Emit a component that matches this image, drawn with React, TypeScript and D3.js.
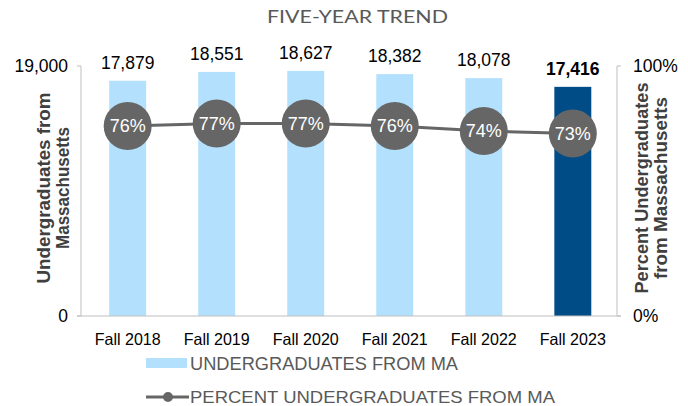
import React from "react";
import * as d3 from "d3";

const categories = ["Fall 2018", "Fall 2019", "Fall 2020", "Fall 2021", "Fall 2022", "Fall 2023"];
const undergrads = [17879, 18551, 18627, 18382, 18078, 17416];
const percents = [76, 77, 77, 76, 74, 73];
const leftTicks = [0, 19000];
const rightTicks = [0, 100];

const W = 688;
const H = 406;
const M = { left: 81, right: 617, top: 66, bottom: 316 };
const FONT = "'Liberation Sans', Arial, sans-serif";

export default function App() {
  const x = d3.scaleBand<string>().domain(categories).range([M.left + 1.5, M.right + 1]).paddingInner(0.585).paddingOuter(0.3);
  const yL = d3.scaleLinear().domain([0, 19000]).range([M.bottom, M.top]);
  const yR = d3.scaleLinear().domain([0, 100]).range([M.bottom, M.top]);
  const fmt = d3.format(",");
  const cx = (c: string) => (x(c) as number) + x.bandwidth() / 2;
  const line = d3
    .line<number>()
    .x((_, i) => cx(categories[i]))
    .y((d) => yR(d));

  return (
    <svg width={W} height={H} style={{ position: "absolute", left: 0, top: 0 }}>
      <rect width={W} height={H} fill="#fff" />
      <text x={267} y={23.3} fontFamily="Lato, sans-serif" fontSize={17.5} fill="#595959" textLength={181} lengthAdjust="spacingAndGlyphs">
        FIVE-YEAR TREND
      </text>

      {categories.map((c, i) => (
        <rect
          key={c}
          x={x(c)}
          y={yL(undergrads[i])}
          width={x.bandwidth()}
          height={yL(0) - yL(undergrads[i])}
          fill={i === categories.length - 1 ? "#004c87" : "#b3e1fd"}
        />
      ))}

      {/* axes */}
      <line x1={M.left} x2={M.left} y1={M.top} y2={M.bottom} stroke="#bfbfbf" strokeWidth={1} />
      <line x1={M.right} x2={M.right} y1={M.top} y2={M.bottom} stroke="#bfbfbf" strokeWidth={1} />
      <line x1={M.left - 4} x2={M.right + 4} y1={M.bottom} y2={M.bottom} stroke="#bfbfbf" strokeWidth={1} />
      {leftTicks.map((t) => (
        <g key={"l" + t}>
          <line x1={M.left - 4} x2={M.left} y1={yL(t)} y2={yL(t)} stroke="#bfbfbf" />
          <text x={M.left - 13} y={yL(t)} dy="0.36em" textAnchor="end" fontFamily={FONT} fontSize={17.5} fill="#000">
            {fmt(t)}
          </text>
        </g>
      ))}
      {rightTicks.map((t) => (
        <g key={"r" + t}>
          <line x1={M.right} x2={M.right + 4} y1={yR(t)} y2={yR(t)} stroke="#bfbfbf" />
          <text x={M.right + 16} y={yR(t)} dy="0.36em" textAnchor="start" fontFamily={FONT} fontSize={17.5} fill="#000">
            {t + "%"}
          </text>
        </g>
      ))}
      {categories.map((c) => (
        <text
          key={"x" + c}
          x={cx(c) - 33}
          y={339}
          dy="0.36em"
          fontFamily={FONT}
          fontSize={16.5}
          fill="#000"
          textLength={66}
          lengthAdjust="spacingAndGlyphs"
        >
          {c}
        </text>
      ))}

      {/* axis titles */}
      <g transform="translate(54,188) rotate(-90)">
        <text fontFamily={FONT} fontSize={17.5} fontWeight="bold" fill="#404040">
          <tspan x={-95.5} y={-4} textLength={191} lengthAdjust="spacingAndGlyphs">Undergraduates from</tspan>
          <tspan x={-61} y={15} textLength={122} lengthAdjust="spacingAndGlyphs">Massachusetts</tspan>
        </text>
      </g>
      <g transform="translate(652,188) rotate(-90)">
        <text fontFamily={FONT} fontSize={17.5} fontWeight="bold" fill="#404040">
          <tspan x={-105.5} y={-4} textLength={211} lengthAdjust="spacingAndGlyphs">Percent Undergraduates</tspan>
          <tspan x={-91} y={15} textLength={182} lengthAdjust="spacingAndGlyphs">from Massachusetts</tspan>
        </text>
      </g>

      {/* value labels */}
      {categories.map((c, i) => (
        <text
          key={"v" + c}
          x={cx(c)}
          y={yL(undergrads[i]) - 12}
          textAnchor="middle"
          fontFamily={FONT}
          fontSize={17.5}
          fontWeight={i === categories.length - 1 ? "bold" : "normal"}
          fill="#000"
        >
          {fmt(undergrads[i])}
        </text>
      ))}

      {/* line */}
      <path d={line(percents) || ""} fill="none" stroke="#666666" strokeWidth={3} />
      {categories.map((c, i) => (
        <g key={"p" + c}>
          <circle cx={cx(c)} cy={yR(percents[i])} r={24} fill="#666666" />
          <text x={cx(c)} y={yR(percents[i])} dy="0.36em" textAnchor="middle" fontFamily={FONT} fontSize={18} fill="#fff">
            {percents[i] + "%"}
          </text>
        </g>
      ))}

      {/* legend */}
      <rect x={146} y={358} width={41} height={10} fill="#b3e1fd" />
      <text x={190} y={369.5} fontFamily={FONT} fontSize={17.5} fill="#595959" textLength={268} lengthAdjust="spacingAndGlyphs">
        UNDERGRADUATES FROM MA
      </text>
      <line x1={146} x2={189} y1={397} y2={397} stroke="#666666" strokeWidth={3} />
      <circle cx={168} cy={397} r={5} fill="#666666" />
      <text x={190} y={402.5} fontFamily={FONT} fontSize={16.5} fill="#595959" textLength={365} lengthAdjust="spacingAndGlyphs">
        PERCENT UNDERGRADUATES FROM MA
      </text>
    </svg>
  );
}
